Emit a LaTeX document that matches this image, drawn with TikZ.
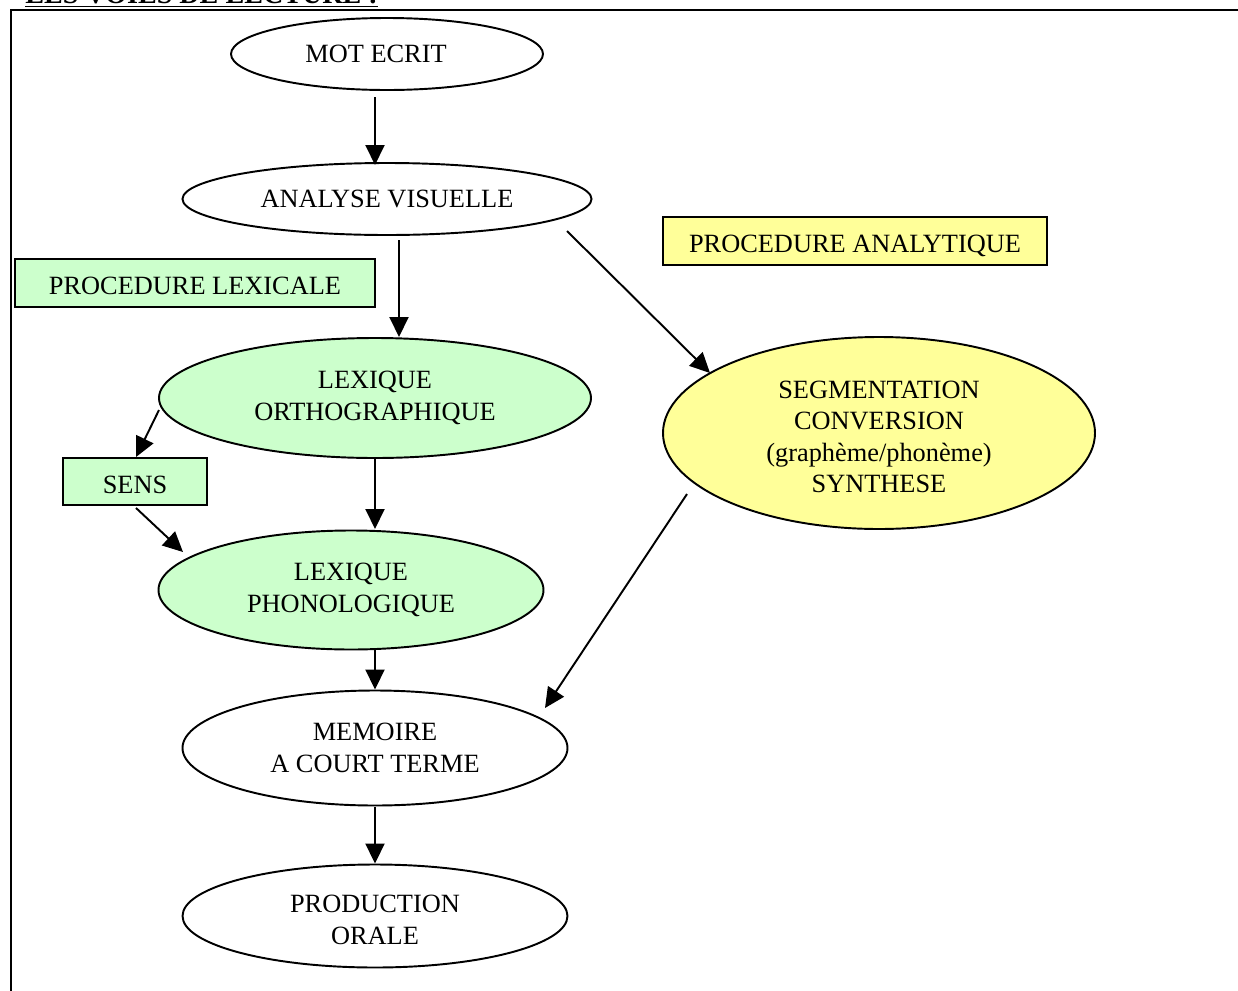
\documentclass[tikz,border=0pt]{standalone}
\usepackage{fontspec}
\setmainfont{Liberation Serif}
\usetikzlibrary{shapes.geometric,arrows.meta}
\definecolor{lgreen}{HTML}{CCFFCC}
\definecolor{lyellow}{HTML}{FFFF99}
\tikzset{
  ell/.style={ellipse, draw, line width=1.1pt, inner sep=0pt, align=center,
              font=\fontsize{15}{17.8}\selectfont},
  tbox/.style={rectangle, draw, line width=1.1pt, inner sep=0pt, align=center,
              text height=0.5cm, text depth=0.03cm,
              font=\fontsize{15}{17.8}\selectfont},
  arr/.style={line width=1.1pt, -{Triangle[length=0.4cm,width=0.38cm]}},
  frame/.style={line width=1.2pt}
}
\newcommand{\lowstrut}{\rule{0pt}{0.51cm}}
\begin{document}
\begin{tikzpicture}[x=0.02cm,y=-0.02cm]
\useasboundingbox (0,0) rectangle (1238,991);
\clip (0,0) rectangle (1238,991);
% title (cut off at top)
\node[anchor=base west, inner sep=0pt, font=\fontsize{16}{18}\bfseries] (title) at (25,3) {\underline{LES VOIES DE LECTURE :}};
% frame
\draw[frame] (1250,10) -- (11,10) -- (11,1000);
% nodes
\node[ell, minimum width=312*0.02cm, minimum height=72*0.02cm] (mot) at (387,54) {MOT ECRIT\hspace*{0.44cm}};
\node[ell, minimum width=409*0.02cm, minimum height=72*0.02cm] (ana) at (387,199) {ANALYSE VISUELLE};
\node[tbox, fill=lgreen, minimum width=360*0.02cm, minimum height=48*0.02cm] (plex) at (195,283) {PROCEDURE LEXICALE};
\node[tbox, fill=lyellow, minimum width=384*0.02cm, minimum height=48*0.02cm] (pana) at (855,241) {PROCEDURE ANALYTIQUE};
\node[ell, fill=lgreen, minimum width=432*0.02cm, minimum height=120*0.02cm] (lo) at (375,398) {LEXIQUE\\ORTHOGRAPHIQUE};
\node[tbox, fill=lgreen, minimum width=144*0.02cm, minimum height=47*0.02cm] (sens) at (135,481.5) {SENS};
\node[ell, fill=lgreen, minimum width=385*0.02cm, minimum height=119*0.02cm] (lp) at (351,590) {LEXIQUE\\PHONOLOGIQUE};
\node[ell, fill=lyellow, minimum width=432*0.02cm, minimum height=192*0.02cm] (seg) at (879,433) {\lowstrut SEGMENTATION\\CONVERSION\\(graphème/phonème)\\SYNTHESE};
\node[ell, minimum width=385*0.02cm, minimum height=115*0.02cm] (mem) at (375,748) {MEMOIRE\\A COURT TERME};
\node[ell, minimum width=385*0.02cm, minimum height=103*0.02cm] (prod) at (375,916) {\lowstrut PRODUCTION\\ORALE};
% connectors
\draw[arr] ([shift={(-12,43)}]mot.center) -- ([shift={(-12,-34)}]ana.center);
\draw[arr] ([shift={(12,41)}]ana.center) -- ([shift={(24,-61)}]lo.center);
\draw[arr] ([shift={(180,32)}]ana.center) -- ([shift={(-169,-60)}]seg.center);
\draw[arr] ([shift={(-216,12)}]lo.center) -- ([shift={(1,0)}]sens.north);
\draw[arr] ([shift={(1,2)}]sens.south) -- ([shift={(-168,-38)}]lp.center);
\draw[arr] (lo.south) -- ([shift={(24,-61)}]lp.center);
\draw[arr] ([shift={(24,60)}]lp.center) -- (mem.north);
\draw[arr] ([shift={(-192,61)}]seg.center) -- ([shift={(170,-40)}]mem.center);
\draw[arr] ([shift={(0,1)}]mem.south) -- (prod.north);
\end{tikzpicture}
\end{document}
